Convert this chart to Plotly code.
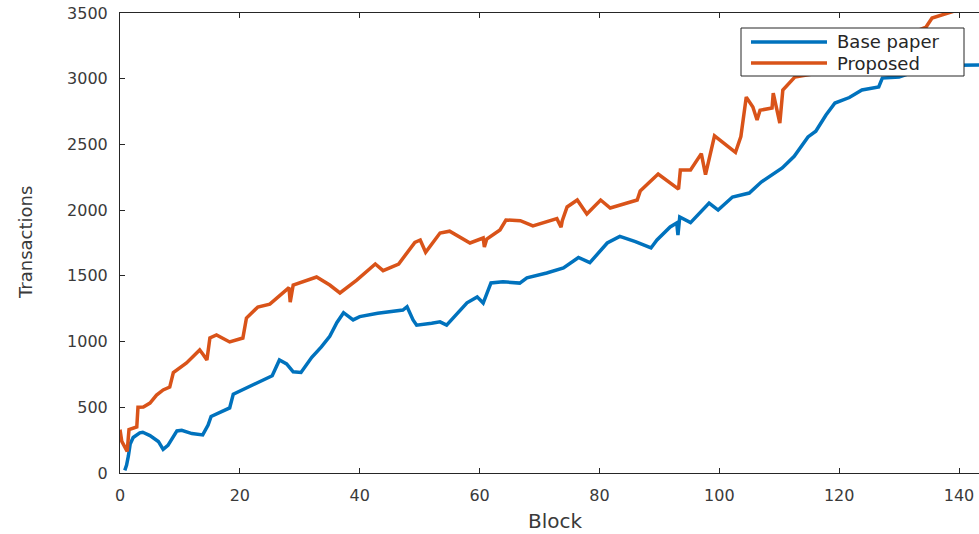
import plotly.graph_objects as go

# Base paper series: block index vs. transactions
block_base = [0.8, 1.1, 1.4, 1.7, 2.2, 3.3, 3.8, 5, 6.4, 7.2, 8.0, 8.8, 9.5, 10.3, 12, 13.8,
              14.7, 15.2, 16.5, 18.3, 18.9, 20.3, 22.5, 25.4, 26.6, 27.8, 28.9, 30.2, 32,
              33.6, 35, 36.2, 37.3, 38.9, 40, 43, 47.2, 47.9, 48.9, 49.5, 52, 53.4, 54.5,
              56.7, 57.9, 59.6, 60.6, 61.9, 63.9, 66.7, 67.9, 71.2, 74, 76.5, 78.4, 81.3,
              83.4, 86, 88.6, 89.6, 91.8, 92.9, 93.1, 93.4, 95.2, 98.3, 99.8, 102.2, 105,
              107, 110.5, 112.5, 114.8, 116.1, 117.8, 119.3, 121.7, 123.8, 126.6, 127.2,
              130, 133, 136, 143.5]
tx_base = [20, 60, 130, 220, 270, 305, 310, 285, 240, 180, 210, 270, 320, 325, 300, 290,
           365, 430, 460, 495, 600, 630, 680, 740, 860, 830, 770, 765, 880,
           960, 1040, 1145, 1220, 1165, 1190, 1215, 1240, 1265, 1165, 1125, 1140, 1150, 1125,
           1240, 1295, 1340, 1293, 1446, 1455, 1445, 1485, 1522, 1560, 1640, 1600, 1750,
           1800, 1760, 1712, 1773, 1872, 1902, 1811, 1948, 1905, 2054, 2001, 2100, 2130,
           2214, 2321, 2410, 2557, 2600, 2724, 2815, 2857, 2914, 2937, 3005,
           3013, 3060, 3100, 3104]

# Proposed series: block index vs. transactions
block_prop = [0, 0.3, 1.2, 1.5, 2.8, 3.0, 3.9, 5, 6.1, 7.2, 8.3, 8.9, 11.1, 13.3, 13.9,
              14.5, 15, 16.1, 18.3, 20.5, 21.1, 23, 25, 27.2, 28.2, 28.4, 28.9, 32.8, 35,
              36.7, 39.5, 42.6, 43.9, 46.5, 49.2, 50.1, 51, 53.4, 55, 58.4, 60.6, 60.8,
              61.2, 63.4, 64.4, 66.8, 68.9, 72.9, 73.6, 73.8, 74.6, 76.3, 77.9, 80.2, 81.8,
              86.3, 86.8, 89.8, 93.2, 93.5, 95.2, 97, 97.7, 99.2, 102.7, 103.6, 104.5,
              105.6, 106.3, 106.8, 108.8, 109, 110.1, 110.6, 112.6, 116, 120, 125, 130,
              134.5, 135.5, 138.3, 141]
tx_prop = [330, 240, 165, 330, 350, 500, 502, 532, 593, 632, 654, 765, 837, 936, 900,
           860, 1027, 1050, 997, 1027, 1179, 1263, 1285, 1377, 1410, 1300, 1430, 1491, 1430,
           1370, 1468, 1590, 1540, 1590, 1755, 1773, 1680, 1826, 1840, 1750, 1788, 1720,
           1780, 1849, 1925, 1920, 1880, 1935, 1870, 1920, 2024, 2077, 1970, 2077, 2016,
           2077, 2145, 2275, 2160, 2305, 2305, 2430, 2270, 2565, 2440, 2560, 2860,
           2785, 2686, 2760, 2777, 2891, 2663, 2914, 3013, 3040, 3120, 3220, 3310,
           3393, 3462, 3500, 3540]

series_names = ["Base paper", "Proposed"]
series_colors = ["#0072BD", "#D95319"]

x_ticks = [0, 20, 40, 60, 80, 100, 120, 140]
y_ticks = [0, 500, 1000, 1500, 2000, 2500, 3000, 3500]

W, H = 979, 534
L, R, T, B = 120, 0, 13, 61
PW, PH = W - L - R, H - T - B


def px(xp):
    return (xp - L) / PW


def py(yp):
    return (H - B - yp) / PH


FONT = "DejaVu Sans"
AXCOL = "#262626"
TXTCOL = "#3a3a3a"

fig = go.Figure()
for bx, ty, name, col in [(block_base, tx_base, series_names[0], series_colors[0]),
                          (block_prop, tx_prop, series_names[1], series_colors[1])]:
    fig.add_trace(go.Scatter(x=bx, y=ty, mode="lines", name=name,
                             line=dict(color=col, width=3.5), showlegend=False))

# Legend box drawn as shapes
shapes = [dict(type="rect", xref="paper", yref="paper",
               x0=px(741), x1=px(964), y0=py(76), y1=py(28),
               fillcolor="white", line=dict(color=AXCOL, width=1), layer="above")]
annotations = []
for i, (name, col) in enumerate(zip(series_names, series_colors)):
    yy = py(42 + 21 * i)
    shapes.append(dict(type="line", xref="paper", yref="paper",
                       x0=px(751), x1=px(827), y0=yy, y1=yy,
                       line=dict(color=col, width=3.5), layer="above"))
    annotations.append(dict(text=name, xref="paper", yref="paper", x=px(835), y=yy,
                            xanchor="left", yanchor="middle", showarrow=False,
                            font=dict(family=FONT, size=18, color=AXCOL)))

# Axis titles
annotations.append(dict(text="Block", xref="paper", yref="paper", x=px(555), y=py(521),
                        xanchor="center", yanchor="middle", showarrow=False,
                        font=dict(family=FONT, size=20, color=TXTCOL)))
annotations.append(dict(text="Transactions", xref="paper", yref="paper", x=px(25), y=py(243),
                        xanchor="center", yanchor="middle", showarrow=False, textangle=-90,
                        font=dict(family=FONT, size=18, color=TXTCOL)))

fig.update_layout(
    width=W, height=H,
    margin=dict(l=L, r=R, t=T, b=B),
    plot_bgcolor="white", paper_bgcolor="white",
    shapes=shapes, annotations=annotations,
    xaxis=dict(range=[0, PW / 5.993], tickvals=x_ticks, ticks="inside", ticklen=5,
               tickcolor=AXCOL, showline=True, linecolor=AXCOL, linewidth=1, mirror="ticks",
               showgrid=False, zeroline=False, ticklabelstandoff=8,
               tickfont=dict(family=FONT, size=16, color=TXTCOL)),
    yaxis=dict(range=[0, 3500], tickvals=y_ticks, ticks="inside", ticklen=5,
               tickcolor=AXCOL, showline=True, linecolor=AXCOL, linewidth=1, mirror=False,
               showgrid=False, zeroline=False, ticklabelstandoff=8,
               tickfont=dict(family=FONT, size=16, color=TXTCOL)),
)

fig.write_html("out.html")
